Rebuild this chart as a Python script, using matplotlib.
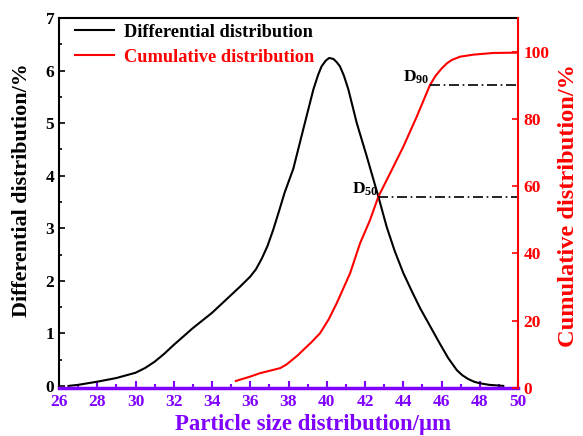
import matplotlib
matplotlib.use("Agg")
import matplotlib.pyplot as plt

# Particle size (μm) vs differential distribution (%)
size_diff = [26.5, 27.0, 28.0, 29.0, 30.0, 30.5, 31.0, 31.5, 32.0, 33.0, 34.0, 35.0,
             35.5, 36.0, 36.3, 36.6, 36.9, 37.2, 37.5, 37.8, 38.25, 38.77, 39.3,
             39.55, 39.73, 39.95, 40.13, 40.35, 40.52, 40.69, 40.9, 41.13, 41.57,
             42.09, 42.7, 43.13, 43.55, 44.0, 44.45, 44.88, 45.4, 45.92, 46.35,
             46.8, 47.1, 47.4, 47.7, 48.0, 48.5, 49.23]
diff_pct = [0.0, 0.02, 0.08, 0.15, 0.25, 0.34, 0.46, 0.61, 0.78, 1.10, 1.39, 1.73,
            1.90, 2.08, 2.22, 2.42, 2.66, 2.97, 3.32, 3.68, 4.13, 4.88, 5.64,
            5.92, 6.08, 6.19, 6.24, 6.22, 6.16, 6.08, 5.90, 5.64, 5.00,
            4.37, 3.60, 3.03, 2.57, 2.15, 1.80, 1.48, 1.14, 0.80, 0.53,
            0.30, 0.20, 0.13, 0.08, 0.05, 0.02, 0.0]

# Particle size (μm) vs cumulative distribution (%)
size_cum = [35.25, 36.0, 36.51, 37.0, 37.56, 37.9, 38.2, 38.5, 38.77, 39.2, 39.65,
            40.1, 40.52, 41.22, 41.74, 42.26, 42.7, 43.31, 44.0, 44.7, 45.4, 45.7,
            46.01, 46.28, 46.53, 46.97, 47.66, 48.7, 50.0]
cum_pct = [2.1, 3.4, 4.4, 5.1, 5.9, 7.0, 8.4, 9.8, 11.3, 13.6, 16.3,
           20.4, 25.2, 34.1, 43.0, 49.9, 56.9, 63.8, 71.7, 80.6, 90.1, 92.9,
           95.0, 96.5, 97.5, 98.5, 99.1, 99.6, 99.7]

# Characteristic sizes marked on the cumulative curve
d_labels = ["50", "90"]
d_sizes = [42.7, 45.4]
d_values = [56.9, 90.0]

x_ticks = [26, 28, 30, 32, 34, 36, 38, 40, 42, 44, 46, 48, 50]
left_ticks = [0, 1, 2, 3, 4, 5, 6, 7]
right_ticks = [0, 20, 40, 60, 80, 100]

PURPLE = "#8000ff"
RED = "#ff0000"

plt.rcParams["font.family"] = ["Liberation Serif", "DejaVu Serif"]
plt.rcParams["font.weight"] = "bold"
plt.rcParams["mathtext.fontset"] = "custom"
plt.rcParams["mathtext.rm"] = "Liberation Serif:bold"
plt.rcParams["mathtext.bf"] = "Liberation Serif:bold"

fig = plt.figure(figsize=(5.83, 4.36), dpi=100)
ax = fig.add_axes([59 / 583, 1 - 388 / 436, 459 / 583, 370 / 436])
ax2 = ax.twinx()

ax.plot(size_diff, diff_pct, color="black", lw=1.5, label="Differential distribution")
ax2.plot(size_cum, cum_pct, color=RED, lw=1.5, label="Cumulative distribution")

for lab, xs, yv in zip(d_labels, d_sizes, d_values):
    ax2.plot([xs, 50], [yv, yv], color="black", lw=1.2, dashes=(6, 2.2, 1, 2.2))
    ax2.text(xs - 0.02, yv - 0.3, r"$\mathbf{D_{%s}}$" % lab, ha="right", va="bottom",
             fontsize=12.5, color="black")

ax.set_xlim(26, 50)
ax.set_ylim(-0.04, 7)
ax2.set_ylim(0, 110)

ax.set_xticks(x_ticks)
ax.set_xticks([t + 1 for t in x_ticks[:-1]], minor=True)
ax.set_yticks(left_ticks)
ax.set_yticks([t + 0.5 for t in left_ticks[:-1]], minor=True)
ax2.set_yticks(right_ticks)

ax.tick_params(axis="x", which="both", direction="in", colors=PURPLE, labelsize=12.5,
               pad=4, width=1.5)
ax.tick_params(axis="x", which="major", length=5)
ax.tick_params(axis="x", which="minor", length=3)
ax.tick_params(axis="y", which="both", direction="in", colors="black", labelsize=12.5,
               width=1.2)
ax.tick_params(axis="y", which="major", length=4)
ax.tick_params(axis="y", which="minor", length=2.5)
ax2.tick_params(axis="y", which="major", direction="in", colors=RED, labelsize=12.5,
                length=4, width=1.2, pad=4)

for lbl in ax.get_xticklabels() + ax.get_yticklabels() + ax2.get_yticklabels():
    lbl.set_fontweight("bold")

ax.spines["bottom"].set_color(PURPLE)
ax.spines["bottom"].set_linewidth(2.5)
ax.spines["left"].set_linewidth(1.5)
ax.spines["top"].set_linewidth(1.5)
ax2.spines["bottom"].set_visible(False)
ax2.spines["left"].set_visible(False)
ax2.spines["top"].set_visible(False)
ax2.spines["right"].set_color(RED)
ax2.spines["right"].set_linewidth(1.5)
ax.spines["right"].set_visible(False)

ax.set_xlabel("Particle size distribution/μm", color=PURPLE, fontsize=16.4, fontweight="bold")
ax.set_ylabel("Differential distribution/%", color="black", fontsize=15.8, fontweight="bold")
ax2.set_ylabel("Cumulative distribution/%", color=RED, fontsize=17.6, fontweight="bold")
ax.xaxis.set_label_coords(0.554, -0.071)
ax.yaxis.set_label_coords(-0.059, 0.535)
ax2.yaxis.set_label_coords(1.087, 0.492)

h1, l1 = ax.get_legend_handles_labels()
h2, l2 = ax2.get_legend_handles_labels()
leg = ax.legend(h1 + h2, l1 + l2, loc="upper left", bbox_to_anchor=(0.035, 0.985),
                frameon=False, fontsize=13.2, handlelength=2.1, handletextpad=0.55,
                labelspacing=0.45, borderpad=0, borderaxespad=0, labelcolor="linecolor")
for t in leg.get_texts():
    t.set_fontweight("bold")

fig.savefig("out.png", dpi=100)
